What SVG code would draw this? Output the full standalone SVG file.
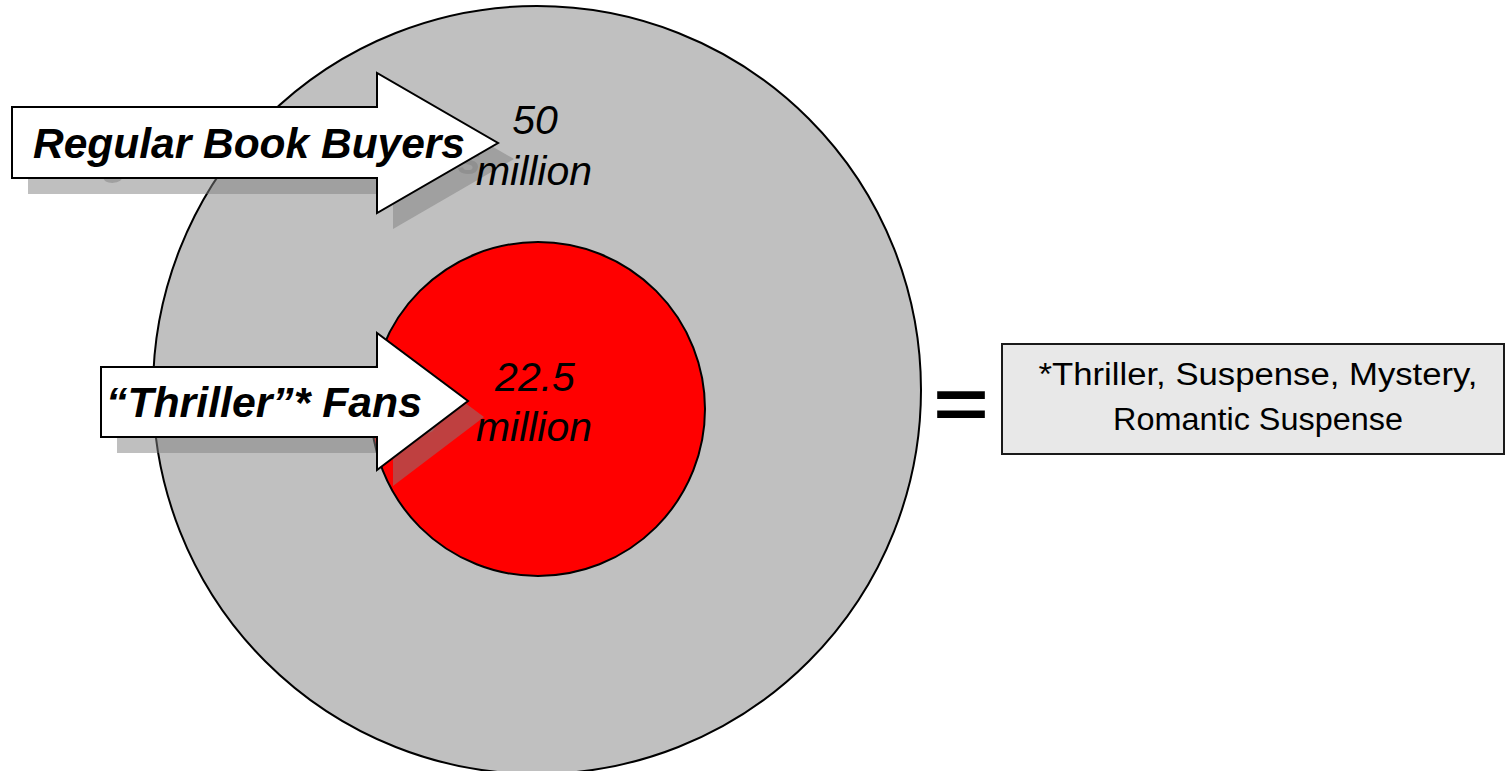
<svg xmlns="http://www.w3.org/2000/svg" xmlns:xlink="http://www.w3.org/1999/xlink" width="1506" height="771" viewBox="0 0 1506 771">
<defs>
<style>
.ring{stroke:#000;stroke-width:2}
.arrow{fill:#fff;stroke:#000;stroke-width:2;stroke-linejoin:miter}
.shadow{fill:#808080;fill-opacity:0.5}
.lbl{font-family:"Liberation Sans",Arial,sans-serif;font-weight:bold;font-style:italic;font-size:42px;fill:#000}
.num{font-family:"Liberation Sans",Arial,sans-serif;font-style:italic;font-size:41px;fill:#000;text-anchor:middle}
.note{font-family:"Liberation Sans",Arial,sans-serif;font-size:31px;fill:#000;text-anchor:middle}
</style>
<filter id="tshadow" x="-20%" y="-50%" width="140%" height="200%">
<feOffset in="SourceAlpha" dx="16" dy="16" result="o"/>
<feFlood flood-color="#808080" flood-opacity="0.5"/>
<feComposite in2="o" operator="in"/>
</filter>
</defs>
<rect width="1506" height="771" fill="#fff"/>
<g id="outer-circle">
<circle class="ring" cx="537" cy="390" r="384" fill="#c0c0c0"/>
</g>
<g id="inner-circle">
<circle class="ring" cx="538" cy="409" r="167" fill="#ff0000"/>
</g>
<g id="regular-arrow">
<polygon class="shadow" points="28,123 393,123 393,89 514,159 393,229 393,194 28,194"/>
<use xlink:href="#lbl-regular" href="#lbl-regular" filter="url(#tshadow)"/>
<polygon class="arrow" points="12,107 377,107 377,73 498,143 377,213 377,178 12,178"/>
<text id="lbl-regular" class="lbl" x="33" y="158" textLength="432" lengthAdjust="spacingAndGlyphs">Regular Book Buyers</text>
</g>
<g id="thriller-arrow">
<polygon class="shadow" points="117,383 393,383 393,349 484,417 393,486 393,453 117,453"/>
<use xlink:href="#lbl-thriller" href="#lbl-thriller" filter="url(#tshadow)"/>
<polygon class="arrow" points="101,367 377,367 377,333 468,401 377,470 377,437 101,437"/>
<text id="lbl-thriller" class="lbl" x="106" y="417" textLength="316" lengthAdjust="spacingAndGlyphs">“Thriller”* Fans</text>
</g>
<g id="outer-value">
<text class="num" x="535" y="134">50</text>
<text class="num" x="534" y="185">million</text>
</g>
<g id="inner-value">
<text class="num" x="535" y="391">22.5</text>
<text class="num" x="534" y="441">million</text>
</g>
<g id="connectors"></g>
<g id="equals">
<text transform="translate(961,428) scale(1,0.75)" x="0" y="0" font-family="Liberation Sans, Arial, sans-serif" font-weight="bold" font-size="95" text-anchor="middle">=</text>
</g>
<g id="definition-box">
<rect x="1002" y="344" width="502" height="110" fill="#e8e8e8" stroke="#1a1a1a" stroke-width="2"/>
<text class="note" x="1258" y="385" textLength="439" lengthAdjust="spacingAndGlyphs">*Thriller, Suspense, Mystery,</text>
<text class="note" x="1258" y="430" textLength="290" lengthAdjust="spacingAndGlyphs">Romantic Suspense</text>
</g>
</svg>
